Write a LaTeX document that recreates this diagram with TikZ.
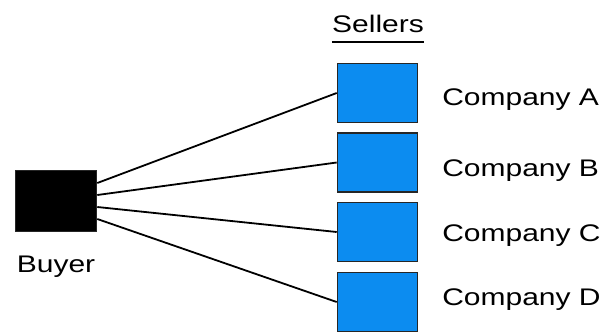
\documentclass[tikz,border=0pt]{standalone}
\usepackage{fontspec}
\setmainfont{Liberation Sans}
\usetikzlibrary{positioning}
\definecolor{sellerblue}{RGB}{12,140,240}

\begin{document}
\begin{tikzpicture}[x=1pt,y=-1pt,
    box/.style={draw=black!85,line width=1.6pt,minimum width=80pt,minimum height=59pt,inner sep=0pt},
    lbl/.style={inner sep=0pt,xscale=1.25,font=\fontsize{24}{28}\selectfont}]
    \useasboundingbox (0,0) rectangle (605,333);

    \node[box,fill=black,minimum width=81pt,minimum height=61pt] (buyer) at (56,201) {};
    \node[lbl,anchor=base] (buyerlabel) at (56,272) {Buyer};

    \node[lbl,anchor=base] (sellers) at (378,32) {Sellers};
    \draw[line width=1.6pt] ([yshift=-10pt]sellers.base west) -- ([yshift=-10pt]sellers.base east);

    \node[box,fill=sellerblue] (compa) at (377.5,93) {};
    \node[box,fill=sellerblue] (compb) at (377.5,162.5) {};
    \node[box,fill=sellerblue] (compc) at (377.5,232) {};
    \node[box,fill=sellerblue] (compd) at (377.5,302) {};

    \node[lbl,anchor=base west] (labela) at (442,105) {Company A};
    \node[lbl,anchor=base west] (labelb) at (442,176) {Company B};
    \node[lbl,anchor=base west] (labelc) at (442,241) {Company C};
    \node[lbl,anchor=base west] (labeld) at (442,305) {Company D};

    \draw[line width=1.8pt] ([yshift=18pt]buyer.east) to (compa.west);
    \draw[line width=1.8pt] ([yshift=6pt]buyer.east) to (compb.west);
    \draw[line width=1.8pt] ([yshift=-6pt]buyer.east) to (compc.west);
    \draw[line width=1.8pt] ([yshift=-18pt]buyer.east) to (compd.west);
  \end{tikzpicture}
\end{document}
